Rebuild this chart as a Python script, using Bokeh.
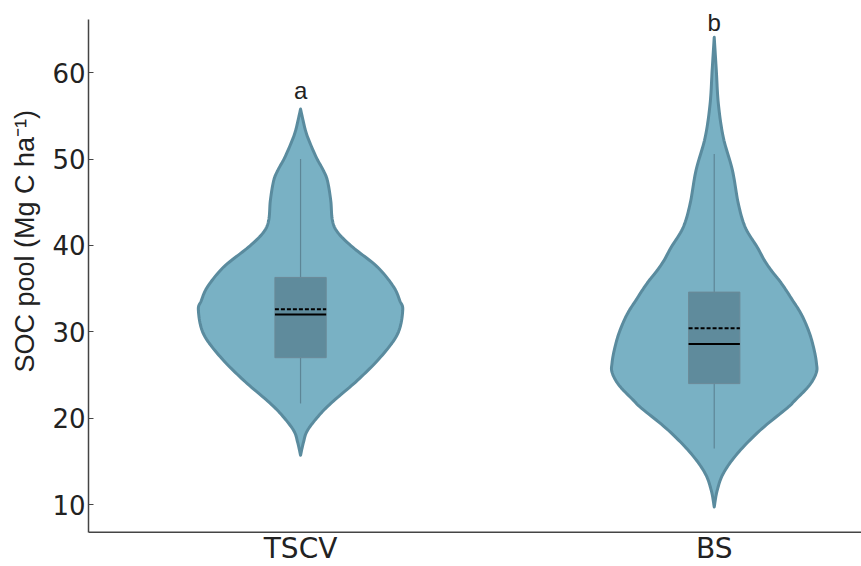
import numpy as np
from bokeh.plotting import figure
from bokeh.models import Range1d, FixedTicker, ColumnDataSource, LabelSet, Span, Title
from bokeh.core.properties import value
from bokeh.embed import file_html
from bokeh.resources import INLINE

# Groups and their positions on the x axis
groups = ["TSCV", "BS"]
group_x = [0, 1]
letters = ["a", "b"]

# Violin outlines: SOC value (Mg C ha-1) and half-width of the density at that value
tscv_soc = [55.8, 54.5, 53.3, 52.2, 50.2, 48.7, 47.5, 45.2, 42.9, 41.5, 39.8, 37.5,
            35.2, 33.6, 32.5, 29.8, 27.1, 24.4, 22.0, 20.5, 18.6, 17.2, 15.7]
tscv_halfw = [0.0, 0.006, 0.012, 0.020, 0.038, 0.055, 0.065, 0.073, 0.077, 0.090,
              0.126, 0.186, 0.225, 0.240, 0.247, 0.235, 0.194, 0.138, 0.080, 0.048,
              0.017, 0.007, 0.0]

bs_soc = [64.1, 60.3, 56.4, 52.5, 48.7, 44.9, 42.1, 39.8, 38.3, 37.1, 35.9, 34.8,
          33.6, 32.5, 31.3, 29.6, 27.8, 26.4, 25.3, 23.8, 22.0, 21.2, 18.6, 15.9,
          13.6, 11.6, 9.7]
bs_halfw = [0.0, 0.005, 0.010, 0.022, 0.044, 0.058, 0.075, 0.104, 0.121, 0.138,
            0.158, 0.174, 0.190, 0.205, 0.218, 0.232, 0.242, 0.247, 0.247, 0.230,
            0.194, 0.177, 0.111, 0.056, 0.022, 0.007, 0.0]

# Box-plot statistics per group
q1 = [27.0, 24.0]
q3 = [36.3, 34.6]
medians = [32.0, 28.6]
means = [32.6, 30.4]
whisk_lo = [21.7, 16.5]
whisk_hi = [50.0, 50.6]

# Letter positions above each violin, and the row of group names
letter_y = [57.9, 65.8]
name_y = [4.85, 4.85]

y_ticks = [10, 20, 30, 40, 50, 60]

# Extent of the drawn axes (data units) and of the visible canvas
AXIS_Y_LO, AXIS_Y_HI = 6.79, 66.17
VIEW_Y = (2.82, 68.37)
VIEW_X = (-0.5126, 1.356)

VIOLIN_FILL = "#79b1c4"
VIOLIN_LINE = "#5a8b9e"
BOX_FILL = "#5f8b9c"
BOX_LINE = "#6b8a98"
WHISKER = "#5d8596"
AXIS = "#444444"
TEXT = "#222222"


def catmull_rom(xs, ys, n=10):
    """Smooth a polyline through the given points with a Catmull-Rom spline."""
    p = np.column_stack([xs, ys]).astype(float)
    p = np.vstack([p[0], p, p[-1]])
    out = []
    for i in range(1, len(p) - 2):
        p0, p1, p2, p3 = p[i - 1], p[i], p[i + 1], p[i + 2]
        for t in np.linspace(0, 1, n, endpoint=False):
            t2, t3 = t * t, t * t * t
            pt = 0.5 * ((2 * p1) + (-p0 + p2) * t
                        + (2 * p0 - 5 * p1 + 4 * p2 - p3) * t2
                        + (-p0 + 3 * p1 - 3 * p2 + p3) * t3)
            out.append(pt)
    out.append(p[-2])
    out = np.array(out)
    return out[:, 0], np.clip(out[:, 1], 0, None)


p = figure(width=861, height=566,
           x_range=Range1d(*VIEW_X), y_range=Range1d(*VIEW_Y),
           output_backend="svg", toolbar_location=None,
           min_border_left=88, min_border_right=0, min_border_top=0,
           min_border_bottom=0)
p.outline_line_color = None
p.xgrid.visible = False
p.ygrid.visible = False
p.background_fill_color = "white"
p.border_fill_color = "white"

# Violins
for cx, soc, hw in [(group_x[0], tscv_soc, tscv_halfw), (group_x[1], bs_soc, bs_halfw)]:
    ys, ws = catmull_rom(soc, hw, n=12)
    xs = np.concatenate([cx - ws, (cx + ws)[::-1]])
    yy = np.concatenate([ys, ys[::-1]])
    p.patch(xs, yy, fill_color=VIOLIN_FILL, line_color=VIOLIN_LINE, line_width=3,
            line_join="round")

# Whiskers
p.segment(x0=group_x, y0=q3, x1=group_x, y1=whisk_hi, line_color=WHISKER, line_width=1.2)
p.segment(x0=group_x, y0=q1, x1=group_x, y1=whisk_lo, line_color=WHISKER, line_width=1.2)

# Boxes
box_w = 0.124
p.vbar(x=group_x, width=box_w, bottom=q1, top=q3, fill_color=BOX_FILL,
       line_color=BOX_LINE, line_width=1)

# Median (solid) and mean (dashed)
x_lo = [x - box_w / 2 for x in group_x]
x_hi = [x + box_w / 2 for x in group_x]
p.segment(x0=x_lo, y0=medians, x1=x_hi, y1=medians, line_color="black", line_width=2)
p.segment(x0=x_lo, y0=means, x1=x_hi, y1=means, line_color="black", line_width=2,
          line_dash="4 2")

# Significance letters
letter_src = ColumnDataSource(dict(x=group_x, y=letter_y, t=letters))
p.add_layout(LabelSet(x="x", y="y", text="t", source=letter_src, text_align="center",
                      text_baseline="middle", text_font=value("Liberation Sans"),
                      text_font_size=value("24px"), text_color=value(TEXT)))

# Group names under the x axis line
name_src = ColumnDataSource(dict(x=group_x, y=name_y, t=groups))
p.add_layout(LabelSet(x="x", y="y", text="t", source=name_src, text_align="center",
                      text_baseline="middle", text_font=value("DejaVu Sans"),
                      text_font_size=value("28px"), text_color=value(TEXT)))

# Bottom axis line
p.xaxis.visible = False
p.add_layout(Span(location=AXIS_Y_LO, dimension="width", line_color=AXIS, line_width=1.5))

# Left axis
ay = p.yaxis[0]
ay.bounds = (AXIS_Y_LO, AXIS_Y_HI)
ay.ticker = FixedTicker(ticks=y_ticks)
ay.major_tick_in = 5
ay.major_tick_out = 0
ay.minor_tick_line_color = None
ay.major_tick_line_color = AXIS
ay.axis_line_color = AXIS
ay.axis_line_width = 1.5
ay.major_label_text_font = "DejaVu Sans"
ay.major_label_text_font_size = "26px"
ay.major_label_text_color = TEXT
ay.major_label_standoff = 3

# Y axis title
p.add_layout(Title(text="SOC pool (Mg C ha\u207b\u00b9)", align="left", offset=194,
                   vertical_align="top", standoff=16, text_font="Liberation Sans",
                   text_font_style="normal", text_font_size="27px",
                   text_color=TEXT), "left")

open("out.html", "w").write(file_html(p, INLINE))
